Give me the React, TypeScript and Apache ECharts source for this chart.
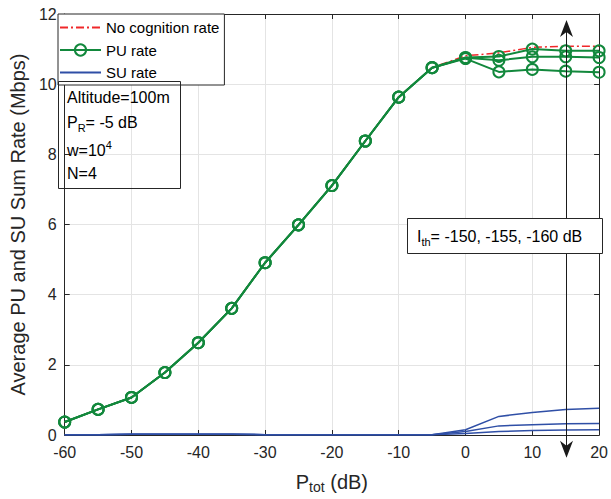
import React, { useEffect, useRef } from "react";
import * as echarts from "echarts";

const ptot = [-60, -55, -50, -45, -40, -35, -30, -25, -20, -15, -10, -5, 0, 5, 10, 15, 20];
const noCognition = [0.37, 0.73, 1.07, 1.78, 2.63, 3.61, 4.91, 5.99, 7.11, 8.38, 9.63, 10.47, 10.81, 10.89, 11.05, 11.08, 11.08];
const puRate150 = [0.37, 0.73, 1.07, 1.78, 2.63, 3.61, 4.91, 5.99, 7.11, 8.38, 9.63, 10.47, 10.73, 10.35, 10.42, 10.37, 10.34];
const puRate155 = [0.37, 0.73, 1.07, 1.78, 2.63, 3.61, 4.91, 5.99, 7.11, 8.38, 9.63, 10.47, 10.75, 10.68, 10.78, 10.78, 10.76];
const puRate160 = [0.37, 0.73, 1.07, 1.78, 2.63, 3.61, 4.91, 5.99, 7.11, 8.38, 9.63, 10.47, 10.76, 10.79, 11.0, 10.95, 10.95];
const suRate150 = [0.01, 0.01, 0.02, 0.02, 0.02, 0.02, 0.01, 0.01, 0.01, 0.01, 0.01, 0.01, 0.15, 0.53, 0.64, 0.73, 0.76];
const suRate155 = [0.01, 0.01, 0.02, 0.02, 0.02, 0.02, 0.01, 0.01, 0.01, 0.01, 0.01, 0.01, 0.1, 0.26, 0.29, 0.32, 0.33];
const suRate160 = [0.01, 0.01, 0.02, 0.02, 0.02, 0.02, 0.01, 0.01, 0.01, 0.01, 0.01, 0.01, 0.04, 0.1, 0.13, 0.14, 0.15];

const xTicks = { min: -60, max: 20, interval: 10 };
const yTicks = { min: 0, max: 12, interval: 2 };

const arrowX = 15;
const arrowTop = 11.83;
const arrowBottom = -0.65;

const FONT = "Liberation Sans";
const AXIS_COLOR = "#262626";
const TEXT_COLOR = "#262626";
const RED = "#f0282a";
const GREEN = "#12883c";
const BLUE = "#2f4fa6";

const pairs = (ys: number[]) => ptot.map((x, i) => [x, ys[i]]);

export default function App() {
  const ref = useRef<HTMLDivElement>(null);
  useEffect(() => {
    if (!ref.current) return;
    const chart = echarts.init(ref.current, null, { renderer: "svg" });
    const axisLine = { show: true, onZero: false, lineStyle: { color: AXIS_COLOR, width: 1 } };
    const axisTick = { show: true, inside: true, length: 5, lineStyle: { color: AXIS_COLOR, width: 1 } };
    const splitLine = { show: true, lineStyle: { color: "#e4e4e4", width: 1 } };
    const labelStyle = { fontSize: 16, color: TEXT_COLOR, fontFamily: FONT };

    const greenSeries = (d: number[]) => ({
      type: "line",
      name: "PU rate",
      data: pairs(d),
      symbol: "circle",
      symbolSize: 11,
      color: GREEN,
      lineStyle: { color: GREEN, width: 2 },
      itemStyle: { color: "transparent", borderColor: GREEN, borderWidth: 2 },
      emphasis: { disabled: true },
      silent: true,
    });
    const blueSeries = (d: number[]) => ({
      type: "line",
      name: "SU rate",
      data: pairs(d),
      symbol: "none",
      showSymbol: false,
      color: BLUE,
      lineStyle: { color: BLUE, width: 1.5 },
      emphasis: { disabled: true },
      silent: true,
    });

    const hiddenSymbol = { opacity: 0, color: "transparent", borderColor: "transparent", borderWidth: 0 };

    const option: any = {
      animation: false,
      backgroundColor: "#ffffff",
      textStyle: { fontFamily: FONT },
      grid: { left: 58, right: 9, top: 14, bottom: 60, containLabel: false },
      legend: {
        left: 58,
        top: 14,
        orient: "vertical",
        backgroundColor: "#ffffff",
        borderColor: AXIS_COLOR,
        borderWidth: 1,
        borderRadius: 0,
        padding: [6, 5, 5, 1],
        itemWidth: 41,
        itemHeight: 14,
        itemGap: 7.5,
        itemTextGap: 5,
        selectedMode: false,
        textStyle: { fontSize: 15, color: "#000", fontFamily: FONT },
        data: [
          { name: "No cognition rate", itemStyle: hiddenSymbol },
          { name: "PU rate" },
          { name: "SU rate", itemStyle: hiddenSymbol },
        ],
      },
      xAxis: [
        {
          type: "value",
          position: "bottom",
          ...xTicks,
          axisLine,
          axisTick,
          splitLine,
          axisLabel: { ...labelStyle, margin: 9 },
          name: "{n|P}{s|tot}{n| (dB)}",
          nameLocation: "middle",
          nameGap: 35,
          nameTextStyle: {
            rich: {
              n: { fontSize: 20, color: TEXT_COLOR, fontFamily: FONT, lineHeight: 24 },
              s: { fontSize: 14, color: TEXT_COLOR, fontFamily: FONT, lineHeight: 14, verticalAlign: "bottom" },
            },
          },
        },
        {
          type: "value",
          position: "top",
          ...xTicks,
          axisLine,
          axisTick,
          splitLine: { show: false },
          axisLabel: { show: false },
        },
      ],
      yAxis: [
        {
          type: "value",
          position: "left",
          ...yTicks,
          axisLine,
          axisTick,
          splitLine,
          axisLabel: { ...labelStyle, margin: 8 },
          name: "Average PU and SU Sum Rate (Mbps)",
          nameLocation: "middle",
          nameGap: 31,
          nameTextStyle: { fontSize: 20, color: TEXT_COLOR, fontFamily: FONT },
        },
        {
          type: "value",
          position: "right",
          ...yTicks,
          axisLine,
          axisTick,
          splitLine: { show: false },
          axisLabel: { show: false },
        },
      ],
      series: [
        {
          type: "line",
          name: "No cognition rate",
          data: pairs(noCognition),
          symbol: "none",
          showSymbol: false,
          color: RED,
          lineStyle: { color: RED, width: 1.5, type: [8, 3, 2, 3] },
          emphasis: { disabled: true },
          silent: true,
        },
        greenSeries(puRate150),
        greenSeries(puRate155),
        greenSeries(puRate160),
        blueSeries(suRate150),
        blueSeries(suRate155),
        blueSeries(suRate160),
      ],
    };
    chart.setOption(option);

    const pTop = chart.convertToPixel({ xAxisIndex: 0, yAxisIndex: 0 }, [arrowX, arrowTop]) as number[];
    const pBot = chart.convertToPixel({ xAxisIndex: 0, yAxisIndex: 0 }, [arrowX, arrowBottom]) as number[];
    const ax = Math.round(pTop[0]) + 0.5;
    const ty = pTop[1];
    const by = pBot[1];
    const headLen = 17;
    const headHalf = 6.5;
    const notch = 5;

    chart.setOption({
      graphic: [
        {
          type: "line",
          z: 100,
          shape: { x1: ax, y1: ty + 8, x2: ax, y2: by - 8 },
          style: { stroke: "#1a1a1a", lineWidth: 1 },
        },
        {
          type: "polygon",
          z: 101,
          shape: {
            points: [
              [ax, ty],
              [ax - headHalf, ty + headLen],
              [ax, ty + headLen - notch],
              [ax + headHalf, ty + headLen],
            ],
          },
          style: { fill: "#1a1a1a" },
        },
        {
          type: "polygon",
          z: 101,
          shape: {
            points: [
              [ax, by],
              [ax - headHalf, by - headLen],
              [ax, by - headLen + notch],
              [ax + headHalf, by - headLen],
            ],
          },
          style: { fill: "#1a1a1a" },
        },
        {
          type: "rect",
          z: 102,
          shape: { x: 407.5, y: 218.5, width: 195, height: 35 },
          style: { fill: "#ffffff", stroke: AXIS_COLOR, lineWidth: 1 },
        },
        {
          type: "text",
          z: 103,
          x: 417,
          y: 236,
          style: {
            text: "{n|I}{s|th}{n|= -150, -155, -160 dB}",
            verticalAlign: "middle",
            rich: {
              n: { fontSize: 16, fill: "#000", fontFamily: FONT, lineHeight: 22 },
              s: { fontSize: 11, fill: "#000", fontFamily: FONT, lineHeight: 11, verticalAlign: "bottom" },
            },
          },
        },
        {
          type: "rect",
          z: 102,
          shape: { x: 58.5, y: 81.5, width: 122, height: 107 },
          style: { fill: "transparent", stroke: AXIS_COLOR, lineWidth: 1 },
        },
        {
          type: "text",
          z: 103,
          x: 67,
          y: 97,
          style: {
            text: "Altitude=100m",
            verticalAlign: "middle",
            fontSize: 16,
            fill: "#000",
            fontFamily: FONT,
          },
        },
        {
          type: "text",
          z: 103,
          x: 67,
          y: 122,
          style: {
            text: "{n|P}{s|R}{n|= -5 dB}",
            verticalAlign: "middle",
            rich: {
              n: { fontSize: 16, fill: "#000", fontFamily: FONT, lineHeight: 22 },
              s: { fontSize: 11, fill: "#000", fontFamily: FONT, lineHeight: 11, verticalAlign: "bottom" },
            },
          },
        },
        {
          type: "text",
          z: 103,
          x: 67,
          y: 150,
          style: {
            text: "{n|w=10}{p|4}",
            verticalAlign: "middle",
            rich: {
              n: { fontSize: 16, fill: "#000", fontFamily: FONT, lineHeight: 22 },
              p: { fontSize: 11, fill: "#000", fontFamily: FONT, lineHeight: 11, verticalAlign: "top" },
            },
          },
        },
        {
          type: "text",
          z: 103,
          x: 67,
          y: 173,
          style: {
            text: "N=4",
            verticalAlign: "middle",
            fontSize: 16,
            fill: "#000",
            fontFamily: FONT,
          },
        },
      ],
    });

    return () => chart.dispose();
  }, []);

  return <div ref={ref} style={{ width: 611, height: 499, position: "absolute", left: 0, top: 0 }} />;
}
